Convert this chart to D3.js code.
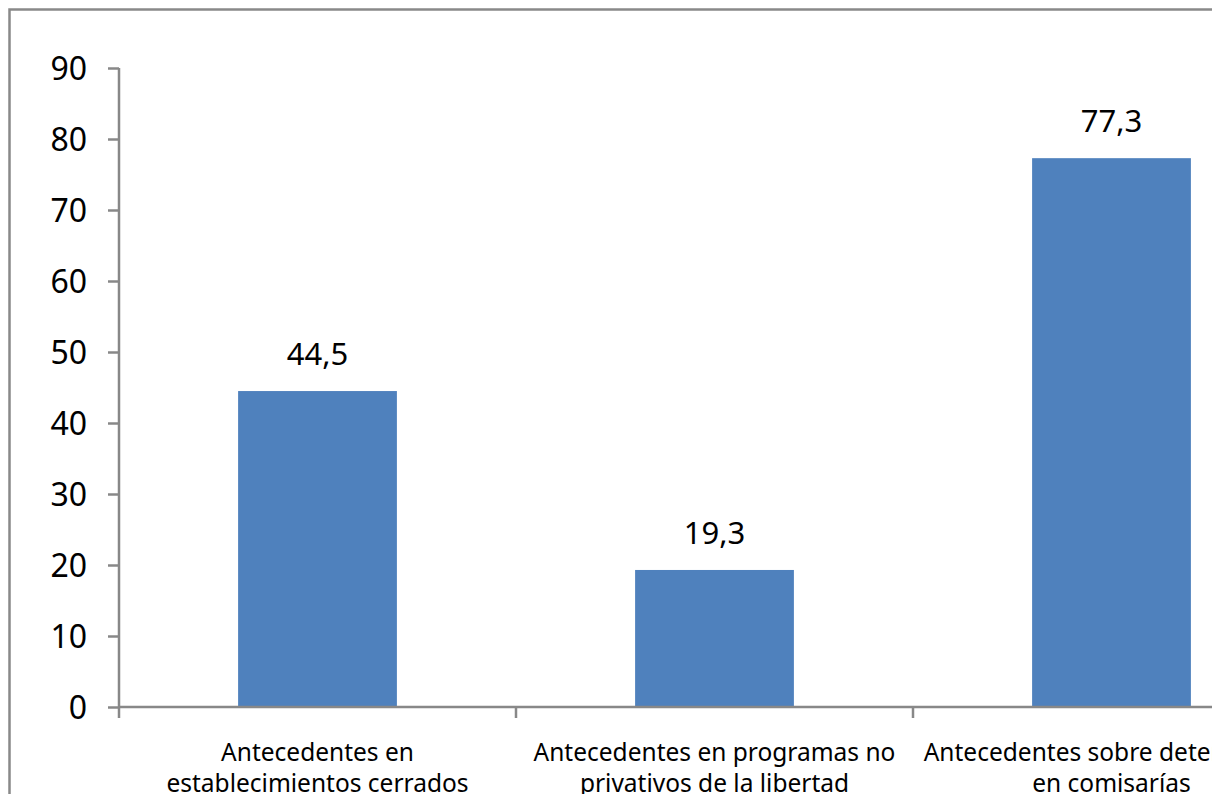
<!DOCTYPE html>
<html><head><meta charset="utf-8">
<script src="https://cdn.jsdelivr.net/npm/d3@7"></script>
<style>html,body{margin:0;padding:0;background:#fff;overflow:hidden}</style>
</head><body>
<svg id="c" width="1224" height="794"></svg>
<script>
const categories = [
  ["Antecedentes en", "establecimientos cerrados"],
  ["Antecedentes en programas no", "privativos de la libertad"],
  ["Antecedentes sobre detenciones", "en comisarías"]
];
const values = [44.5, 19.3, 77.3];
const valueLabels = ["44,5", "19,3", "77,3"];
const yTicks = [0, 10, 20, 30, 40, 50, 60, 70, 80, 90];

const svg = d3.select("#c");
const font = "'Noto Sans', sans-serif";
svg.append("defs").append("clipPath").attr("id","clip")
  .append("rect").attr("x",0).attr("y",0).attr("width",1212).attr("height",794);
const g = svg.append("g").attr("clip-path","url(#clip)");

// outer border
g.append("rect").attr("x",9.5).attr("y",9.5).attr("width",1400).attr("height",900)
  .attr("fill","none").attr("stroke","#898989").attr("stroke-width",2.5);

const x0 = 119, x1 = 1310, y0 = 707, y1 = 68;
const x = d3.scaleBand().domain(d3.range(categories.length)).range([x0, x1]).paddingInner(0.6).paddingOuter(0.3);
const xb = d3.scaleBand().domain(d3.range(categories.length)).range([x0, x1]);
const y = d3.scaleLinear().domain([0, 90]).range([y0, y1]);

// bars
g.selectAll("rect.bar").data(values).enter().append("rect")
  .attr("x",(d,i)=>x(i)).attr("width",x.bandwidth())
  .attr("y",d=>y(d)).attr("height",d=>y0-y(d)).attr("fill","#4F81BD");

// value labels
g.selectAll("text.val").data(values).enter().append("text")
  .attr("x",(d,i)=>x(i)+x.bandwidth()/2).attr("y",d=>y(d)-26)
  .attr("text-anchor","middle").attr("font-family",font).attr("font-size",31).attr("fill","#000")
  .text((d,i)=>valueLabels[i]);

// y axis
const ya = g.append("g").attr("transform",`translate(${x0},0)`)
  .call(d3.axisLeft(y).tickValues(yTicks).tickSize(11).tickPadding(21).tickFormat(d3.format("d")));
ya.select(".domain").attr("stroke","#888").attr("stroke-width",2.5).attr("d",`M0,${y1}V${y0}`);
ya.selectAll(".tick line").attr("stroke","#888").attr("stroke-width",2.5);
ya.selectAll(".tick text").attr("font-family",font).attr("font-size",32).attr("fill","#000").attr("dy","0.36em");

// x axis
const xa = g.append("g").attr("transform",`translate(0,${y0})`)
  .call(d3.axisBottom(xb).tickValues([]).tickSize(0));
xa.select(".domain").attr("stroke","#888").attr("stroke-width",2.5).attr("d",`M${x0},0H${x1}`);
const bounds = [x0].concat(d3.range(categories.length).map(i=>xb(i)+xb.bandwidth()));
xa.selectAll("line.tk").data(bounds).enter().append("line").attr("class","tk")
  .attr("x1",d=>d).attr("x2",d=>d).attr("y1",0).attr("y2",11)
  .attr("stroke","#888").attr("stroke-width",2.5);

// category labels
categories.forEach((lines,i)=>{
  const t = g.append("text").attr("text-anchor","middle").attr("font-family",font)
    .attr("font-size",24.5).attr("fill","#000");
  lines.forEach((ln,j)=>{
    t.append("tspan").attr("x",xb(i)+xb.bandwidth()/2).attr("y",y0+54+j*31).text(ln);
  });
});
</script>
</body></html>
